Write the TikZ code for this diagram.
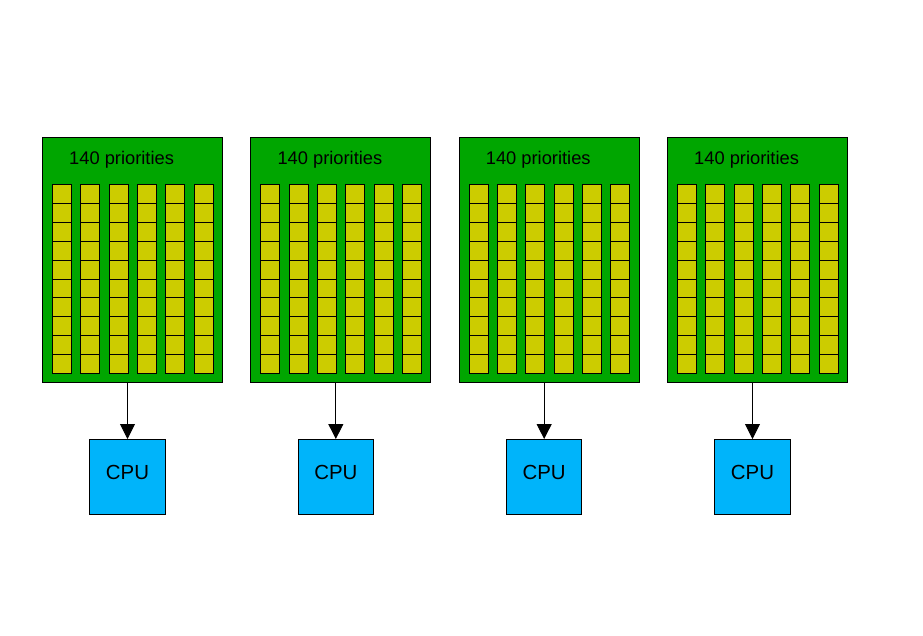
\documentclass[tikz,border=0pt]{standalone}
\usepackage{fontspec}
\setmainfont{Liberation Sans}
\usetikzlibrary{arrows.meta}
\definecolor{qgreen}{RGB}{0,166,0}
\definecolor{qyellow}{RGB}{204,204,0}
\definecolor{cpublue}{RGB}{0,180,250}
\begin{document}
\begin{tikzpicture}[x=1pt,y=-1pt,
  queuebox/.style={draw=black, fill=qgreen, line width=0.9pt, minimum width=180pt, minimum height=245.5pt, inner sep=0pt, anchor=north west},
  cell/.style={draw=black, fill=qyellow, line width=0.8pt, minimum width=19pt, minimum height=18.9pt, inner sep=0pt, anchor=north west},
  cpubox/.style={draw=black, fill=cpublue, line width=0.9pt, minimum width=75.5pt, minimum height=75pt, inner sep=0pt, anchor=north west, text depth=9pt, font=\fontsize{20.4}{24}\selectfont},
  prio/.style={font=\fontsize{18.3}{22}\selectfont, anchor=base west, inner sep=0pt},
  link/.style={-{Triangle[length=15pt,width=15pt]}, line width=0.9pt}
]
\fill[white] (0,0) rectangle (923,635);
\useasboundingbox (0,0) rectangle (923,635);
\foreach \i in {0,...,3} {
  \pgfmathsetmacro{\bx}{42+208.33*\i}
  \node[queuebox] (q\i) at (\bx,136.5) {};
  \node[prio] (t\i) at (\bx+27,164.3) {140 priorities};
  \foreach \c in {0,...,5} {
    \foreach \r in {0,...,9} {
      \node[cell] (c\i-\c-\r) at (\bx+10+28.33*\c, 184+18.9*\r) {};
    }
  }
  \node[cpubox] (cpu\i) at (\bx+47.3,439) {CPU};
  \draw[link] (q\i.south -| cpu\i.north) -- (cpu\i.north);
}
\end{tikzpicture}
\end{document}
